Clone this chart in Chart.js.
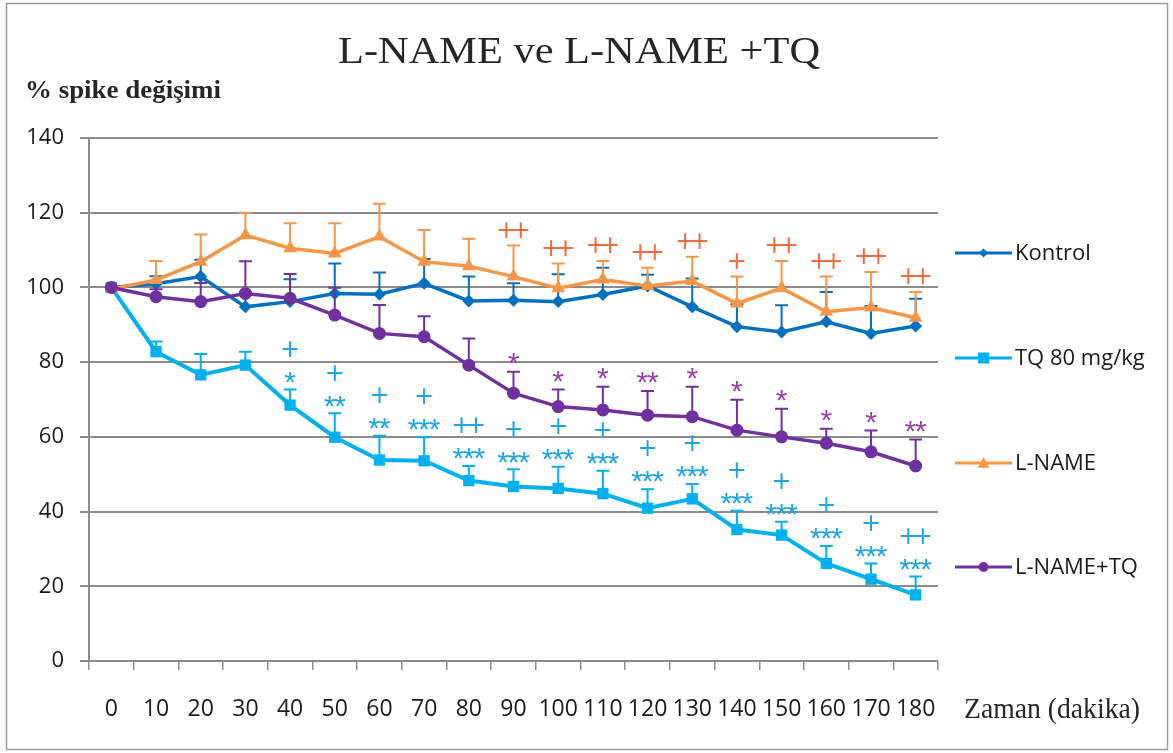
<!DOCTYPE html>
<html>
<head>
<meta charset="utf-8">
<title>L-NAME ve L-NAME +TQ</title>
<script src="https://cdn.jsdelivr.net/npm/chart.js@4.4.1/dist/chart.umd.min.js"></script>
<style>
  html, body { margin: 0; padding: 0; background: #ffffff; }
  #wrap { width: 1173px; height: 753px; }
</style>
</head>
<body>
<div id="wrap"><canvas id="c" width="1173" height="753"></canvas></div>
<script>
// Time points (minutes)
const categories = ['0','10','20','30','40','50','60','70','80','90','100','110','120','130','140','150','160','170','180'];
const yTicks = [0, 20, 40, 60, 80, 100, 120, 140];

// Mean % spike change per group
const kontrol   = [100, 101, 102.9, 94.8, 96.2, 98.4, 98.2, 101.1, 96.4, 96.6, 96.2, 98.1, 100.4, 94.8, 89.5, 88.1, 90.8, 87.7, 89.7];
const tq80      = [100, 82.8, 76.6, 79.2, 68.5, 59.9, 53.8, 53.6, 48.3, 46.7, 46.2, 44.8, 40.9, 43.4, 35.2, 33.7, 26.1, 21.9, 17.7];
const lname     = [99.6, 102, 106.9, 114, 110.5, 109.1, 113.6, 106.9, 105.7, 102.9, 99.8, 102.1, 100.4, 101.7, 95.7, 99.8, 93.5, 94.6, 91.9];
const lnameTq   = [100, 97.5, 96.2, 98.4, 97.1, 92.6, 87.7, 86.8, 79.2, 71.7, 68.1, 67.2, 65.8, 65.4, 61.8, 60, 58.3, 56, 52.2];

// Upper error (SEM) per group
const kontrolErr = [0, 2, 4.5, 4, 6, 8, 5.8, 6.5, 6.5, 4.5, 7.3, 7.2, 3, 7.6, 6, 7.1, 8, 7.3, 7.3];
const tq80Err    = [0, 2.7, 5.6, 3.6, 4.2, 6.4, 6.5, 6.3, 3.9, 4.6, 5.8, 6.1, 5.1, 4.0, 5.0, 3.6, 4.7, 4.2, 4.9];
const lnameErr   = [0, 5.1, 7.3, 6.0, 6.7, 8.1, 8.8, 8.5, 7.3, 8.3, 6.6, 5.0, 4.9, 6.5, 7.2, 7.3, 9.4, 9.5, 6.9];
const lnameTqErr = [0, 2, 5, 8.6, 6.5, 7.3, 7.6, 5.5, 7.1, 5.7, 4.6, 6.2, 6.5, 8.0, 8.1, 7.5, 3.9, 5.7, 7.1];

// Significance marks
const lnamePlus   = ['', '', '', '', '', '', '', '', '', '++', '++', '++', '++', '++', '+', '++', '++', '++', '++'];
const lnameTqStar = ['', '', '', '', '', '', '', '', '', '*', '*', '*', '**', '*', '*', '*', '*', '*', '**'];
const tq80Star    = ['', '', '', '', '*', '**', '**', '***', '***', '***', '***', '***', '***', '***', '***', '***', '***', '***', '***'];
const tq80Plus    = ['', '', '', '', '+', '+', '+', '+', '++', '+', '+', '+', '+', '+', '+', '+', '+', '+', '++'];

const seriesNames = ['Kontrol', 'TQ 80 mg/kg', 'L-NAME', 'L-NAME+TQ'];
const colors = ['#0070c0', '#00b0f0', '#f79646', '#7030a0'];
const errors = [kontrolErr, tq80Err, lnameErr, lnameTqErr];

const TICK_FONT = '"Open Sans", "Liberation Sans", sans-serif';
const SERIF = '"Liberation Serif", "DejaVu Serif", serif';

function drawMarker(ctx, style, x, y, r, color) {
  ctx.save();
  ctx.fillStyle = color;
  ctx.beginPath();
  if (style === 'rectRot') {
    ctx.moveTo(x, y - r); ctx.lineTo(x + r, y); ctx.lineTo(x, y + r); ctx.lineTo(x - r, y);
  } else if (style === 'rect') {
    ctx.rect(x - r, y - r, 2 * r, 2 * r);
  } else if (style === 'triangle') {
    ctx.moveTo(x, y - r); ctx.lineTo(x + r, y + r * 0.8); ctx.lineTo(x - r, y + r * 0.8);
  } else {
    ctx.arc(x, y, r, 0, Math.PI * 2);
  }
  ctx.closePath();
  ctx.fill();
  ctx.restore();
}

// Text stretched horizontally to a given width
function fillTextWidth(ctx, txt, x, y, width) {
  const w = ctx.measureText(txt).width;
  ctx.save();
  ctx.translate(x, y);
  ctx.scale(width / w, 1);
  ctx.fillText(txt, 0, 0);
  ctx.restore();
}

// White background and frame
const frame = {
  id: 'frame',
  beforeDraw(chart) {
    const ctx = chart.ctx;
    ctx.save();
    ctx.fillStyle = '#ffffff';
    ctx.fillRect(0, 0, chart.width, chart.height);
    ctx.restore();
  },
  afterDraw(chart) {
    const ctx = chart.ctx;
    ctx.save();
    ctx.strokeStyle = '#9a9a9a';
    ctx.lineWidth = 1.5;
    ctx.strokeRect(6.5, 3.5, 1161, 746);
    ctx.restore();
  }
};

// Upper error bars drawn beneath each series' line
const errorBars = {
  id: 'errorBars',
  beforeDatasetDraw(chart, args) {
    const i = args.index;
    const ds = chart.data.datasets[i];
    const meta = chart.getDatasetMeta(i);
    const ys = chart.scales.y;
    const ctx = chart.ctx;
    ctx.save();
    ctx.strokeStyle = ds.borderColor;
    ctx.lineWidth = 2;
    meta.data.forEach((pt, k) => {
      const e = errors[i][k];
      if (!e) return;
      const top = ys.getPixelForValue(ds.data[k] + e);
      ctx.beginPath();
      ctx.moveTo(pt.x, pt.y);
      ctx.lineTo(pt.x, top);
      ctx.moveTo(pt.x - 6.5, top);
      ctx.lineTo(pt.x + 6.5, top);
      ctx.stroke();
    });
    ctx.restore();
  }
};

// Significance marks above the error bars
const marks = {
  id: 'marks',
  afterDatasetsDraw(chart) {
    const ctx = chart.ctx;
    const ys = chart.scales.y;
    const xs = chart.scales.x;
    const capPx = (data, err, k) => ys.getPixelForValue(data[k] + err[k]);
    ctx.save();
    ctx.textAlign = 'center';
    ctx.textBaseline = 'middle';
    const drawStars = (txt, x, y, color) => {
      ctx.fillStyle = color;
      ctx.font = '30px "Liberation Sans", sans-serif';
      const w = 10.5;
      const n = txt.length;
      for (let j = 0; j < n; j++) {
        ctx.fillText('*', x + (j - (n - 1) / 2) * w, y + 7);
      }
    };
    const drawPlus = (txt, x, y, color) => {
      ctx.fillStyle = color;
      ctx.font = '24px "DejaVu Sans", sans-serif';
      const w = 14.5;
      const n = txt.length;
      for (let j = 0; j < n; j++) {
        ctx.fillText('+', x + (j - (n - 1) / 2) * w, y);
      }
    };
    categories.forEach((c, k) => {
      const x = xs.getPixelForValue(k);
      if (lnamePlus[k]) drawPlus(lnamePlus[k], x, capPx(lname, lnameErr, k) - 14, '#f5693a');
      if (lnameTqStar[k]) drawStars(lnameTqStar[k], x, capPx(lnameTq, lnameTqErr, k) - 14, '#9b3fa8');
      if (tq80Star[k]) {
        const sy = capPx(tq80, tq80Err, k) - 13;
        drawStars(tq80Star[k], x, sy, '#1aa6e6');
        if (tq80Plus[k]) drawPlus(tq80Plus[k], x, sy - 26, '#1aa6e6');
      }
    });
    ctx.restore();
  }
};

// Titles, axis captions and legend
const texts = {
  id: 'texts',
  afterDraw(chart) {
    const ctx = chart.ctx;
    ctx.save();
    ctx.fillStyle = '#262626';
    ctx.textBaseline = 'alphabetic';
    ctx.textAlign = 'left';
    ctx.font = '38px ' + SERIF;
    fillTextWidth(ctx, 'L-NAME ve L-NAME +TQ', 338, 63, 482);

    ctx.font = 'bold 25px ' + SERIF;
    fillTextWidth(ctx, '% spike değişimi', 25, 98, 196);

    ctx.font = '30px ' + SERIF;
    fillTextWidth(ctx, 'Zaman (dakika)', 964, 718, 176);

    const styles = ['rectRot', 'rect', 'triangle', 'circle'];
    const sizes = [4.5, 5.5, 6, 5];
    const ly = [253, 358, 463, 567];
    ctx.font = '22px ' + TICK_FONT;
    ctx.textBaseline = 'middle';
    seriesNames.forEach((name, i) => {
      ctx.strokeStyle = colors[i];
      ctx.lineWidth = 3;
      ctx.beginPath();
      ctx.moveTo(955, ly[i]);
      ctx.lineTo(1012, ly[i]);
      ctx.stroke();
      drawMarker(ctx, styles[i], 983.5, ly[i], sizes[i], colors[i]);
      ctx.fillStyle = '#1a1a1a';
      ctx.fillText(name, 1015, ly[i] + 1);
    });
    ctx.restore();
  }
};

const styles = ['rectRot', 'rect', 'triangle', 'circle'];
const radii = [6.5, 8, 8, 6.5];
const seriesData = [kontrol, tq80, lname, lnameTq];

new Chart(document.getElementById('c'), {
  type: 'line',
  data: {
    labels: categories,
    datasets: seriesData.map((d, i) => ({
      label: seriesNames[i],
      data: d,
      borderColor: colors[i],
      backgroundColor: colors[i],
      borderWidth: i === 1 ? 4 : 3.5,
      pointStyle: styles[i],
      pointRadius: radii[i],
      pointBorderWidth: 0,
      tension: 0,
      order: 4 - i
    }))
  },
  options: {
    responsive: false,
    animation: false,
    devicePixelRatio: 1,
    layout: { padding: { left: 0, right: 235, top: 138, bottom: 0 } },
    plugins: {
      legend: { display: false },
      title: { display: false },
      tooltip: { enabled: false }
    },
    scales: {
      x: {
        type: 'category',
        offset: true,
        grid: { offset: true, drawOnChartArea: false, drawTicks: true, tickLength: 9, color: '#8c8c8c', lineWidth: 1.5 },
        border: { display: true, color: '#8c8c8c', width: 2 },
        ticks: { color: '#1a1a1a', font: { family: TICK_FONT, size: 23 }, padding: 26, maxRotation: 0, autoSkip: false },
        afterFit(scale) { scale.height = 92; }
      },
      y: {
        min: 0,
        max: 140,
        afterBuildTicks(scale) { scale.ticks = yTicks.map(v => ({ value: v })); },
        grid: { color: '#8c8c8c', lineWidth: 2, tickLength: 9 },
        border: { display: true, color: '#8c8c8c', width: 2 },
        ticks: { color: '#1a1a1a', font: { family: TICK_FONT, size: 22 }, padding: 16 },
        afterFit(scale) { scale.width = 89; }
      }
    }
  },
  plugins: [frame, errorBars, marks, texts]
});
</script>
</body>
</html>
